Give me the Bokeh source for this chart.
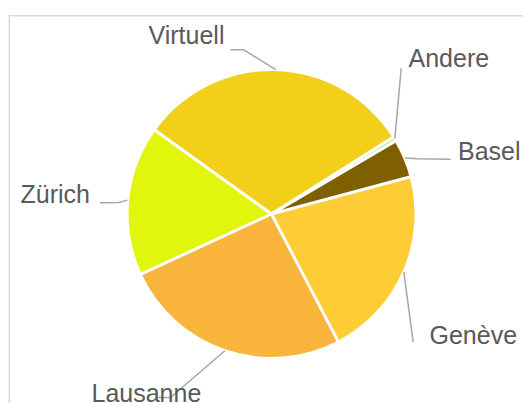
import numpy as np
from bokeh.plotting import figure
from bokeh.models import Range1d, ColumnDataSource
from bokeh.embed import file_html
from bokeh.resources import INLINE
from bokeh.core.properties import value

# ---- data ----
categories = ["Virtuell", "Andere", "Basel", "Genève", "Lausanne", "Zürich"]
shares = [31.1, 0.5, 4.3, 21.5, 25.8, 16.8]
colors = ["#F2D01A", "#C6EFA0", "#7F6000", "#FECC35", "#F9B43B", "#E2F50D"]

# ---- layout (pixel coords of labels / leader bends, y from top) ----
W, H = 523, 403
OFF_X, OFF_Y = 0, 403           # pixel -> data: x - OFF_X, OFF_Y - y
CX, CY, R = 271 - OFF_X, OFF_Y - 213.5, 143
START_DEG = 144.25
TEXT_DY = -9.5                   # baseline correction for svg text
label_pos = {
    "Virtuell": (148, 44),
    "Andere": (408, 67.3),
    "Basel": (457.5, 160),
    "Genève": (429, 344),
    "Lausanne": (91, 402),
    "Zürich": (20, 203.3),
}
leader_bends = {
    "Virtuell": [(243.3, 49.3), (230, 49.3)],
    "Andere": [(400.7, 67.7)],
    "Basel": [(416.7, 158.3), (450, 158.7)],
    "Genève": [(412.7, 341.7)],
    "Lausanne": [(170, 397), (157, 397)],
    "Zürich": [(118.3, 202), (99.3, 202.3)],
}

vals = np.array(shares, dtype=float)
fr = vals / vals.sum()
cum = np.cumsum(fr)
start0 = np.deg2rad(START_DEG)
starts = start0 - 2 * np.pi * (cum - fr)
ends = start0 - 2 * np.pi * cum
mids = (starts + ends) / 2

p = figure(width=W, height=H, x_range=Range1d(0, W), y_range=Range1d(0, H),
           output_backend="svg", toolbar_location=None, min_border=0,
           x_axis_type=None, y_axis_type=None)
p.grid.visible = False
p.outline_line_color = None
p.background_fill_color = "white"
p.border_fill_color = "white"

# chart frame (top and left edges visible)
p.line(x=[8.8, 8.8, W + 5], y=[-5, OFF_Y - 15.3, OFF_Y - 15.3],
       line_color="#D9D9D9", line_width=1.5)

src = ColumnDataSource(dict(cat=categories, start=starts, end=ends, color=colors))
p.wedge(x=CX, y=CY, radius=R, start_angle="start", end_angle="end",
        direction="clock", fill_color="color", line_color=None, source=src)
p.ray(x=CX, y=CY, length=R + 3, angle=starts, line_color="white", line_width=3)

# leader lines
xs, ys = [], []
for cat, m in zip(categories, mids):
    px = [CX + (R + 1.5) * np.cos(m)]
    py = [CY + (R + 1.5) * np.sin(m)]
    for bx, by in leader_bends[cat]:
        px.append(bx - OFF_X)
        py.append(OFF_Y - by)
    xs.append(px)
    ys.append(py)
p.multi_line(xs=xs, ys=ys, line_color="#A6A6A6", line_width=1.5)

tx = [label_pos[c][0] - OFF_X for c in categories]
ty = [OFF_Y - (label_pos[c][1] + TEXT_DY) for c in categories]
p.text(x=tx, y=ty, text=categories, text_font=value("Liberation Sans"),
       text_font_size="25px", text_color="#595959",
       text_baseline="alphabetic", text_align="left")

open("out.html", "w").write(file_html(p, INLINE))
